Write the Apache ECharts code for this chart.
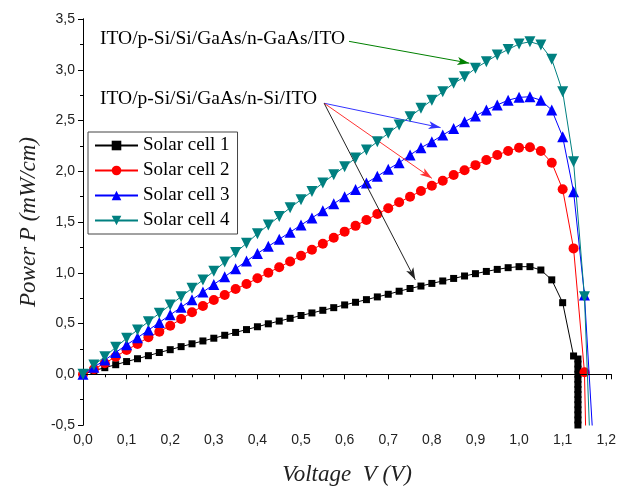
<!DOCTYPE html>
<html>
<head>
<meta charset="utf-8">
<script src="https://cdn.jsdelivr.net/npm/echarts@6/dist/echarts.min.js"></script>
<style>
  html, body { margin: 0; padding: 0; background: #fff; }
  #chart { width: 619px; height: 491px; }
</style>
</head>
<body>
<div id="chart"></div>
<script>
// voltage steps shared by all four cells (V)
var voltage = [0, 0.025, 0.05, 0.075, 0.1, 0.125, 0.15, 0.175, 0.2, 0.225, 0.25, 0.275, 0.3, 0.325, 0.35, 0.375,
  0.4, 0.425, 0.45, 0.475, 0.5, 0.525, 0.55, 0.575, 0.6, 0.625, 0.65, 0.675, 0.7, 0.725, 0.75, 0.775,
  0.8, 0.825, 0.85, 0.875, 0.9, 0.925, 0.95, 0.975, 1.0, 1.025, 1.05, 1.075, 1.1, 1.125];

// power values (mW/cm)
var cell1Power = [0, 0.035, 0.065, 0.094, 0.125, 0.153, 0.183, 0.214, 0.242, 0.272, 0.300, 0.328, 0.355, 0.384, 0.412, 0.440,
  0.468, 0.497, 0.524, 0.551, 0.579, 0.604, 0.630, 0.656, 0.683, 0.709, 0.735, 0.762, 0.788, 0.818, 0.845, 0.869,
  0.895, 0.919, 0.944, 0.968, 0.991, 1.013, 1.033, 1.050, 1.060, 1.060, 1.027, 0.930, 0.705, 0.180];
var cell2Power = [0, 0.050, 0.108, 0.173, 0.239, 0.298, 0.364, 0.419, 0.478, 0.544, 0.610, 0.672, 0.732, 0.781, 0.840, 0.889,
  0.945, 1.000, 1.055, 1.110, 1.168, 1.226, 1.285, 1.345, 1.405, 1.462, 1.520, 1.578, 1.635, 1.694, 1.749, 1.805,
  1.857, 1.907, 1.963, 2.010, 2.060, 2.110, 2.160, 2.200, 2.232, 2.236, 2.200, 2.084, 1.822, 1.240];
var cell3Power = [0, 0.070, 0.140, 0.215, 0.290, 0.360, 0.435, 0.510, 0.585, 0.660, 0.735, 0.810, 0.885, 0.960, 1.040, 1.115,
  1.190, 1.260, 1.330, 1.400, 1.470, 1.540, 1.610, 1.680, 1.750, 1.820, 1.885, 1.950, 2.020, 2.084, 2.160, 2.232,
  2.290, 2.357, 2.420, 2.488, 2.544, 2.603, 2.653, 2.700, 2.728, 2.734, 2.700, 2.603, 2.340, 1.798];
var cell4Power = [0, 0.090, 0.173, 0.265, 0.354, 0.436, 0.518, 0.600, 0.682, 0.764, 0.847, 0.929, 1.015, 1.105, 1.200, 1.290,
  1.385, 1.470, 1.555, 1.640, 1.720, 1.800, 1.885, 1.965, 2.045, 2.130, 2.210, 2.290, 2.374, 2.456, 2.537, 2.620,
  2.700, 2.784, 2.866, 2.930, 3.014, 3.080, 3.145, 3.200, 3.254, 3.276, 3.244, 3.103, 2.784, 2.094];

// points past 1.125 V, where each curve falls off
var cell1TailV = [1.135, 1.135, 1.135, 1.135, 1.135, 1.135, 1.135, 1.135, 1.135, 1.135, 1.135, 1.135, 1.135, 1.135];
var cell1TailP = [0.15, 0.10, 0.05, 0.0, -0.05, -0.10, -0.15, -0.20, -0.25, -0.30, -0.35, -0.40, -0.45, -0.50];
var cell2TailV = [1.15, 1.153];
var cell2TailP = [0.02, -0.6];
var cell3TailV = [1.15, 1.169];
var cell3TailP = [0.78, -0.6];
var cell4TailV = [1.15, 1.162];
var cell4TailP = [0.764, -0.6];

var seriesNames = ['Solar cell 1', 'Solar cell 2', 'Solar cell 3', 'Solar cell 4'];

// annotation arrows, [start, end] in data coords
var arrowGreen = [[0.61, 3.28], [0.886, 3.065]];
var arrowBlue = [[0.553, 2.67], [0.82, 2.43]];
var arrowRed = [[0.553, 2.67], [0.80, 1.93]];
var arrowBlack = [[0.553, 2.67], [0.762, 0.93]];

function pairs(xs, ys) {
  var out = [];
  for (var i = 0; i < xs.length; i++) out.push([xs[i], ys[i]]);
  return out;
}

function comma(v) {
  return v.toFixed(1).replace('.', ',');
}

var serif = 'Liberation Serif';
var sans = 'Liberation Sans';

var myChart = echarts.init(document.getElementById('chart'));

var option = {
  animation: false,
  backgroundColor: '#fff',
  grid: { left: 83, right: 7, top: 19, bottom: 66, containLabel: false },
  legend: {
    data: seriesNames,
    orient: 'vertical',
    left: 88,
    top: 132,
    padding: [4, 8, 4, 6],
    itemGap: 6,
    itemWidth: 43,
    itemHeight: 12,
    borderColor: '#444',
    borderWidth: 1,
    textStyle: { fontFamily: serif, fontSize: 19, color: '#000' }
  },
  xAxis: [{
    type: 'value',
    min: 0,
    max: 1.211,
    interval: 0.1,
    name: 'Voltage  V (V)',
    nameLocation: 'middle',
    nameGap: 38,
    nameTextStyle: { fontFamily: serif, fontStyle: 'italic', fontSize: 23, color: '#222' },
    axisLine: { lineStyle: { color: '#000', width: 1 } },
    axisTick: { inside: false, length: 5, lineStyle: { color: '#000' } },
    minorTick: { show: true, splitNumber: 2, length: 3, lineStyle: { color: '#000' } },
    axisLabel: { showMaxLabel: false, margin: 8, fontFamily: sans, fontSize: 14, color: '#222', formatter: comma },
    splitLine: { show: false }
  }, {
    type: 'value',
    position: 'top',
    min: 0,
    max: 1.211,
    axisLine: { show: true, lineStyle: { color: '#000', width: 1 } },
    axisTick: { show: false },
    axisLabel: { show: false },
    splitLine: { show: false }
  }],
  yAxis: [{
    type: 'value',
    min: -0.5,
    max: 3.5,
    interval: 0.5,
    name: 'Power P (mW/cm)',
    nameLocation: 'middle',
    nameGap: 33,
    nameTextStyle: { fontFamily: serif, fontStyle: 'italic', fontSize: 23, color: '#222' },
    axisLine: { show: true, lineStyle: { color: '#000', width: 1 } },
    axisTick: { inside: false, length: 5, lineStyle: { color: '#000' } },
    minorTick: { show: true, splitNumber: 2, length: 3, lineStyle: { color: '#000' } },
    axisLabel: { margin: 8, fontFamily: sans, fontSize: 14, color: '#222', formatter: comma },
    splitLine: { show: false }
  }, {
    type: 'value',
    position: 'right',
    min: -0.5,
    max: 3.5,
    axisLine: { show: true, lineStyle: { color: '#000', width: 1 } },
    axisTick: { show: false },
    axisLabel: { show: false },
    splitLine: { show: false }
  }],
  graphic: [{
    type: 'text',
    left: 100,
    top: 29,
    style: { text: 'ITO/p-Si/Si/GaAs/n-GaAs/ITO', font: '19.5px "Liberation Serif"', fill: '#000' }
  }, {
    type: 'text',
    left: 100,
    top: 89,
    style: { text: 'ITO/p-Si/Si/GaAs/n-Si/ITO', font: '19.5px "Liberation Serif"', fill: '#000' }
  }],
  series: [{
    name: seriesNames[0],
    type: 'line',
    data: pairs(voltage, cell1Power).concat(pairs(cell1TailV, cell1TailP)),
    symbol: 'rect',
    symbolSize: 7,
    color: '#000000',
    lineStyle: { width: 1 },
    z: 2,
    markLine: {
      silent: true,
      symbol: ['none', 'none'],
      label: { show: false },
      lineStyle: { color: '#000', width: 1, type: 'solid' },
      data: [{ yAxis: 0 }]
    }
  }, {
    name: seriesNames[1],
    type: 'line',
    data: pairs(voltage, cell2Power).concat(pairs(cell2TailV, cell2TailP)),
    symbol: 'circle',
    symbolSize: 10,
    color: '#ff0000',
    lineStyle: { width: 1 },
    z: 3
  }, {
    name: seriesNames[2],
    type: 'line',
    data: pairs(voltage, cell3Power).concat(pairs(cell3TailV, cell3TailP)),
    symbol: 'triangle',
    symbolSize: 11,
    color: '#0000ff',
    lineStyle: { width: 1 },
    z: 4
  }, {
    name: seriesNames[3],
    type: 'line',
    data: pairs(voltage, cell4Power).concat(pairs(cell4TailV, cell4TailP)),
    symbol: 'triangle',
    symbolRotate: 180,
    symbolSize: 11,
    color: '#008080',
    lineStyle: { width: 1 },
    z: 5,
    markLine: {
      silent: true,
      symbol: ['none', 'arrow'],
      symbolSize: [6, 12],
      label: { show: false },
      data: [
        [{ coord: arrowGreen[0], lineStyle: { color: '#008000', width: 1, type: 'solid' } }, { coord: arrowGreen[1] }],
        [{ coord: arrowBlue[0], lineStyle: { color: '#3333ff', width: 1, type: 'solid' } }, { coord: arrowBlue[1] }],
        [{ coord: arrowRed[0], lineStyle: { color: '#ff3333', width: 1, type: 'solid' } }, { coord: arrowRed[1] }],
        [{ coord: arrowBlack[0], lineStyle: { color: '#222', width: 1, type: 'solid' } }, { coord: arrowBlack[1] }]
      ]
    }
  }]
};

myChart.setOption(option);
</script>
</body>
</html>
